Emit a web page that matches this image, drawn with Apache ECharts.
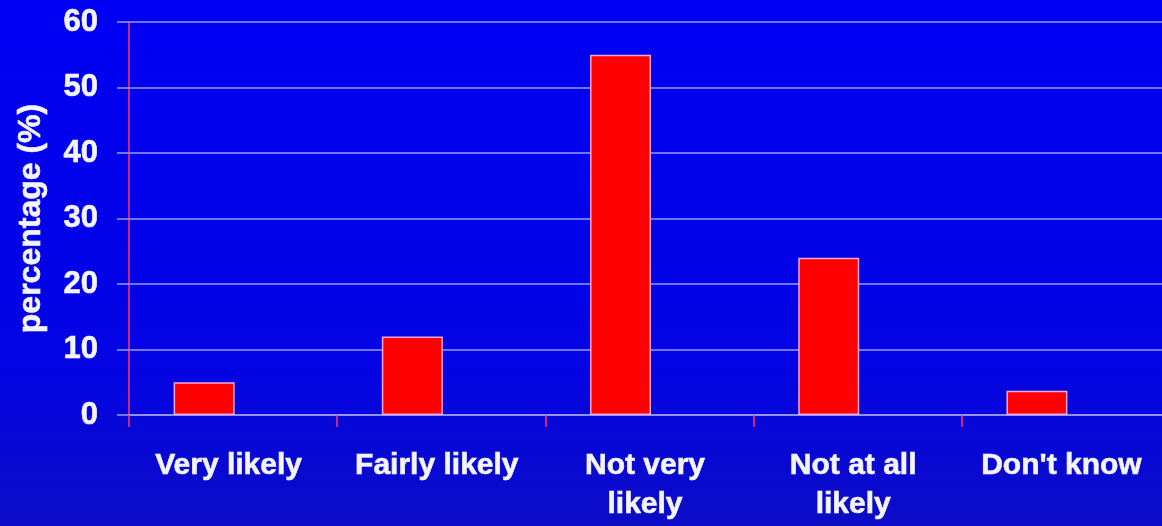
<!DOCTYPE html>
<html>
<head>
<meta charset="utf-8">
<script src="https://cdn.jsdelivr.net/npm/echarts@6/dist/echarts.min.js"></script>
<style>
  html, body { margin: 0; padding: 0; overflow: hidden; }
  /* plot runs slightly past the right edge of the window */
  #chart { width: 1170px; height: 526px; }
</style>
</head>
<body>
<div id="chart"></div>
<script>
// Survey responses: how likely, share of respondents in percent
const categories = ['Very likely', 'Fairly likely', 'Not very\nlikely', 'Not at all\nlikely', "Don't know"];
const percentages = [5, 12, 55, 24, 3.7];
const yTicks = { min: 0, max: 60, interval: 10 };

const FONT = '"Liberation Sans", Arial, sans-serif';
const TEXT = '#f4f4ff';
const GRID_LINE = '#9a9aff';
const AXIS_RED = '#ff3a5c';

// heavy white lettering used by every label
const heavyText = {
  color: TEXT,
  fontFamily: FONT,
  fontWeight: 'bold',
  textBorderColor: TEXT,
  textBorderWidth: 0.6
};

const chart = echarts.init(document.getElementById('chart'), null, { renderer: 'canvas' });

chart.setOption({
  animation: false,
  backgroundColor: {
    type: 'linear', x: 0, y: 0, x2: 0, y2: 1,
    colorStops: [
      { offset: 0, color: '#0000f4' },
      { offset: 0.7, color: '#0404e4' },
      { offset: 1, color: '#0c0cc6' }
    ]
  },
  grid: { left: 129, right: 0, top: 22, bottom: 111, containLabel: false },
  xAxis: {
    type: 'category',
    data: categories,
    boundaryGap: true,
    axisLine: { show: true, lineStyle: { color: GRID_LINE, width: 1.5 } },
    axisTick: { show: true, alignWithLabel: false, length: 12, lineStyle: { color: AXIS_RED, width: 1.5 } },
    axisLabel: Object.assign({
      interval: 0,
      margin: 31,
      fontSize: 30,
      lineHeight: 39,
      padding: [0, 9, 0, 0]
    }, heavyText),
    splitLine: { show: false }
  },
  yAxis: {
    type: 'value',
    min: yTicks.min,
    max: yTicks.max,
    interval: yTicks.interval,
    name: 'percentage (%)',
    nameLocation: 'middle',
    nameGap: 82,
    nameRotate: 90,
    nameTextStyle: Object.assign({ fontSize: 32 }, heavyText),
    axisLine: { show: true, lineStyle: { color: AXIS_RED, width: 1.5 } },
    axisTick: { show: true, length: 12, lineStyle: { color: GRID_LINE, width: 1.5 } },
    axisLabel: Object.assign({ margin: 31, fontSize: 31 }, heavyText),
    splitLine: { show: true, lineStyle: { color: GRID_LINE, width: 1.5 } }
  },
  series: [
    {
      name: 'percentage',
      type: 'bar',
      data: percentages,
      barWidth: 61,
      barGap: '-5%',
      itemStyle: { color: '#ff0000', borderColor: '#f4a6d8', borderWidth: 1.5 }
    },
    {
      // empty companion column keeps each bar in the left half of its category
      name: 'spacer',
      type: 'bar',
      data: percentages.map(() => '-'),
      barWidth: 61,
      itemStyle: { color: 'transparent' }
    }
  ]
});
</script>
</body>
</html>
